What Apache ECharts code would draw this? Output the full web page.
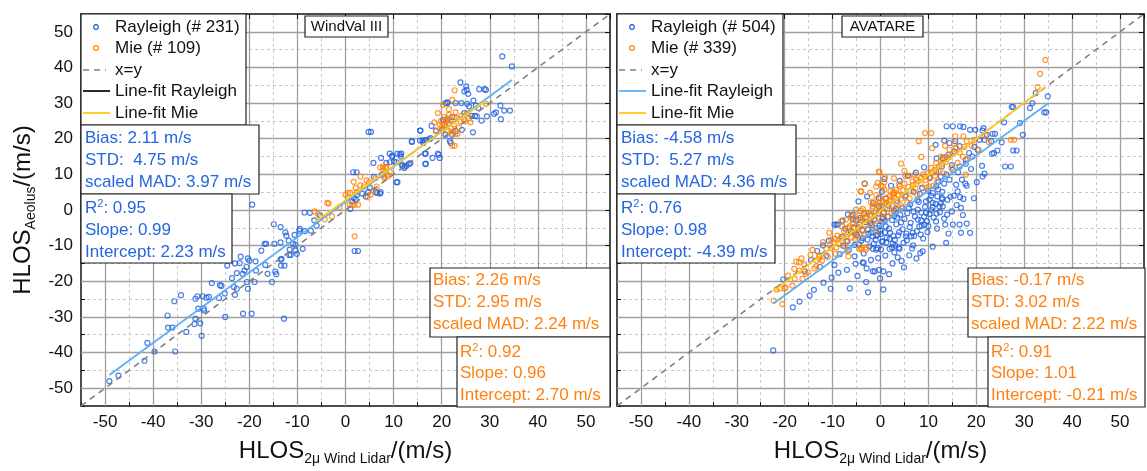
<!DOCTYPE html>
<html>
<head>
<meta charset="utf-8">
<script src="https://cdn.jsdelivr.net/npm/echarts@6/dist/echarts.min.js"></script>
<style>
  html, body { margin: 0; padding: 0; background: #fff; }
  #chart { width: 1147px; height: 471px; }
</style>
</head>
<body>
<div id="chart"></div>
<script>
// ---- data ----
const windvalRayleigh = [
  [-49.1,-48],[-47.2,-46.5],[-41.8,-42.3],[-41.2,-37.3],[-39.7,-39.7],[-37.0,-29.6],[-36.9,-33.0],[-36.0,-33.0],
  [-35.6,-25.6],[-35.4,-39.7],[-34.2,-23.9],[-33.1,-34.2],[-31.4,-32.0],[-31.2,-30.5],[-31.2,-24.9],[-30.8,-24.2],
  [-30.6,-27.7],[-30.2,-31.8],[-29.9,-35.3],[-29.7,-24.2],[-29.5,-27.7],[-29.4,-28.2],[-28.9,-24.6],[-28.4,-24.4],
  [-27.8,-20.5],[-26.3,-24.7],[-26.1,-21.1],[-25.8,-21.3],[-25.1,-23.4],[-25.0,-30.0],[-24.6,-15.6],[-23.6,-19.1],
  [-23.2,-21.6],[-23.0,-23.8],[-23.0,-15.0],[-22.6,-22.1],[-22.6,-17.7],[-22.0,-14.9],[-21.8,-13.1],[-21.4,-17.9],
  [-21.3,-29.1],[-21.0,-17.0],[-20.6,-16.0],[-20.5,-20.2],[-20.3,-22.1],[-20.3,-13.6],[-20.0,-14.2],[-19.5,-29.1],
  [-18.9,-20.2],[-18.7,-14.4],[-18.6,-17.0],[-17.5,-11.4],[-16.8,-9.5],[-16.5,-9.5],[-16.7,-15.4],[-16.2,-17.9],
  [-15.3,-20.2],[-14.8,-9.5],[-14.6,-17.3],[-13.5,-9.1],[-13.5,-13.9],[-13.4,-15.6],[-12.8,-30.5],[-12.7,-15.6],
  [-12.5,-6.3],[-12.3,-7.2],[-11.8,-8.6],[-11.6,-11.1],[-11.4,-12.6],[-10.9,-9.5],[-10.6,-7.0],[-10.4,-9.8],
  [-10.4,-11.4],[-10.1,-12.3],[-9.6,-5.8],[-8.9,-10.9],[-8.4,-5.9],[-7.2,-5.8],[1.9,-11.5],[2.6,-11.5],
  [-11.7,-12.6],[-13.3,-13.7],[-14.4,-18.0],
  [-19.4,1.5],[-14.9,-4.0],[-13.5,-4.8],[-9.5,-5.3],[-8.5,-0.7],[-7.4,-0.8],[-6.5,-2.9],[-6.0,-4.4],[-5.3,-1.6],
  [1.0,0.3],[1.4,2.4],[1.7,3.4],[2.1,2.9],[2.4,4.3],[1.6,10.6],[2.3,10.6],[3.5,4.6],[4.2,3.8],[4.7,5.0],[5.1,6.2],
  [4.8,21.9],[5.3,21.9],[5.9,9.3],[5.8,13.2],[6.3,5.0],[6.6,4.8],[7.2,4.6],[7.4,14.6],[7.6,9.9],[8.5,13.2],
  [9.2,15.8],[9.2,13.4],[9.7,15.2],[10.1,13.6],[10.8,7.8],[10.8,15.8],[11.6,15.8],[11.8,12.4],[12.2,11.8],
  [12.7,12.4],[13.2,13.0],[13.8,19.3],[15.5,22.3],[16.0,19.5],[16.3,19.5],[16.5,15.8],[16.6,12.9],[17.7,20.2],
  [18.1,14.6],[19.4,15.5],[19.6,14.6],[18.8,22.3],[20.1,22.5],[20.8,30.0],[21.2,30.2],[21.7,19.3],
  [32.6,43.1],[34.6,40.3],[23.9,35.8],[25.1,34.7],[25.2,33.7],[24.7,33.3],[25.5,32.6],[27.8,33.9],[28.9,33.9],
  [29.2,33.7],[26.6,30.7],[21.2,30.0],[22.9,30.0],[24.1,30.0],[25.3,29.8],[25.7,29.1],[27.1,29.3],[27.6,28.6],
  [32.2,29.3],[33.0,27.9],[34.2,27.9],[31.3,27.4],[30.9,27.0],[29.4,26.3],[27.3,26.3],[26.9,26.4],[26.2,26.4],
  [28.3,25.1],[32.3,25.5],[24.7,27.2],[22.2,26.1],[21.2,25.1],[20.3,25.3],[24.2,22.5],[26.5,21.8],[21.9,18.8],
  [17.9,23.6],[15.6,22.3],[13.8,19.1],[15.5,19.5],[16.7,19.7],[17.5,19.9],[16.2,18.8],[16.7,15.8],[19.2,15.8],
  [16.7,13.0],[11.5,15.0],[10.6,13.4],[10.6,7.8],[7.3,5.0],[11.3,15.6],[9.7,15.0],[11.8,12.7],[12.3,12.2],
  [13.5,13.1],[20.8,21.1],[22.2,21.1],[22.9,22.1]
];
const windvalMie = [
  [-6.4,-0.4],[-2.8,-1.8],[-3.8,2.0],[-3.5,1.8],[0,4.3],[0.5,4.8],[1.0,4.8],[0.9,1.5],[1.4,1.5],[1.9,1.5],[2.6,1.5],
  [3.1,9.4],[1.7,7.9],[2.1,6.2],[2.4,5.0],[3.1,6.9],[3.8,6.6],[4.4,8.3],[4.9,7.8],[5.2,4.3],[5.8,5.5],[6.5,6.6],
  [7.2,12.0],[7.8,11.6],[8.5,12.1],[8.1,9.4],[8.7,9.9],[9.2,10.8],
  [22.7,33.6],[22.2,30.9],[20.3,29.5],[19.2,27.2],[20.5,26.1],[21.2,25.8],[21.5,26.7],[22.7,26.1],[23.1,25.8],
  [23.9,24.9],[24.9,24.9],[26.0,24.6],[19.6,23.9],[20.1,23.5],[20.8,23.3],[21.5,24.4],[21.9,23.0],[22.4,22.1],
  [22.9,21.4],[23.3,21.4],[22.0,21.4],[22.7,18.0],[22.2,18.0],[18.8,22.1],[29.2,29.8],[21.5,28.3],[20.5,23.9],
  [21.2,22.5],[25.3,27.2],[24.6,25.4],[25.7,25.8],[7.8,12.2],[8.3,11.8],[8.8,9.4],[8.1,9.0],[1.9,-7.4],
  [20.9,24.8],[21.8,25.2],[22.5,24.0],[23.6,23.2],[20.2,22.6],[19.9,25.0],[22.9,27.4],[24.2,26.5],[18.5,24.6],
  [-4.3,-2.6],[-1.2,0.8],[4.6,3.6],[6.2,8.9],[-5.7,-1.1]
];
const avatareRayleigh = [
  [-20.3,-19.5],[-22.4,-39.4],[-18.3,-27.3],[-16.9,-25.7],[-14.8,-24.0],[-13.9,-22.4],[-10.4,-22.1],[-5.4,-9.8],
  [-5.2,-15.1],[-3.7,-14.7],[-3.5,-14.9],[-1.6,-17.2],[-1.2,-17.2],[-0.3,-16.8],[0.6,-17.2],[-0.1,-19.2],
  [-1.6,-10.9],[-0.6,-10.7],[0.3,-8.9],[1.2,-9.1],[1.9,-8.1],[2.6,-9.5],[3.1,-10.0],[3.8,-10.5],[-1.9,-6.3],
  [-0.9,-7.2],[0.1,-6.7],[1.9,-10.9],
  [16.8,-6.4],[18.7,-6.4],[8.3,-12.1],[5.3,-7.4],[6.4,-7.4],[6.7,-6.4],[4.0,-10.9],[3.6,-13.3],[2.9,-11.9],[2.4,-10.5],
  [-3.3,7.4],[-0.35,3.4],[0.8,8.7],[-9.6,-4.1],[-8.9,-4.1],[-5.8,-1.3],[-5.1,-2.7],[-4.4,-4.1],[-2.6,-5.5],
  [-1.6,-7.4],[-0.6,-6.9],[0.5,-8.8],[-0.9,-11.1],[0.1,-11.1],[-2.3,-10.2],[-3.7,-7.9],[-4.5,-9.7],[-5.4,-13.0],
  [32.4,32.8],[31.2,28.6],[31.7,30.0],[34.9,31.9],[34.2,27.4],[34.6,27.4],[27.4,28.9],[27.7,28.9],[29.7,21.1],
  [29.1,24.4],[25.8,24.6],[26.0,12.2],[27.2,12.2],[27.7,16.7],[28.4,16.7],[25.3,19.0],[23.9,21.4],[23.4,21.4],
  [24.4,16.7],[23.3,15.8],[23.7,16.0],[13.8,23.5],[15.1,23.5],[16.6,23.5],[17.3,23.3],[18.7,22.5],[19.8,22.5],
  [21.5,23.0],[21.3,22.3],[22.2,21.1],[23.1,19.3],[21.7,19.7],[20.7,19.7],[19.6,17.7],[20.3,16.9],[18.5,16.0],
  [19.2,15.0],[17.8,14.1],[21.2,12.4],[21.7,10.2],[21.3,9.4],[17.8,13.0],[16.5,12.2],[15.1,11.3],[16.2,10.6],
  [17.0,8.5],[17.7,7.4],[18.0,6.8],[16.1,5.2],[15.3,4.0],[16.6,3.6],[17.3,3.1],[16.8,0.6],[18.0,-3.8],[16.5,-4.1],
  [15.1,-4.1],[13.5,-4.1],[14.9,-0.4],[13.0,1.0],[14.0,2.9],[12.8,3.4],[11.9,3.8],[10.9,4.8],[11.6,6.6],[13.3,7.4],
  [14.4,8.5],[13.8,9.9],[12.6,9.4],[11.6,10.8],[12.8,12.2],[11.7,14.5],[11.5,18.3],[13.3,19.5],[14.4,18.8],
  [15.6,19.3],[16.5,17.9],[15.4,16.4],[14.2,15.5],[13.0,14.6],[10.6,0],[9.5,-0.8],[8.5,-0.7],[7.8,0.1],[9.2,-4.1],
  [8.1,-4.6],[8.6,-4.4],[11.6,-3.2],[12.3,1.0],[10.9,2.0],[10.2,2.9],[9.5,2.4],
  [-9.2,-4.1],[-5.8,-2.7],[-8.1,-7.5],[-7.4,-5.2],[-6.9,-8.8],[-6.2,-6.1],[-5.6,-4.9],[-4.9,-7.0],[-4.2,-2.2],
  [-3.8,-5.6],[-3.1,-3.4],[-2.7,-8.3],[-2.2,-1.5],[-1.8,-4.2],[-1.3,-2.6],[-0.8,-5.1],[-0.4,-1.0],[0.2,-3.3],
  [0.7,-0.6],[1.1,-4.6],[1.5,-1.9],[2.0,-6.4],[2.4,-2.8],[2.8,-0.2],[3.3,-4.0],[3.7,-7.1],[4.1,-1.3],[4.6,-5.4],
  [5.0,-2.5],[5.5,-8.5],[5.9,0.6],[6.3,-3.6],[6.8,-9.9],[7.2,-1.8],[7.6,-5.9],[8.0,2.3],[8.5,-2.9],[8.9,-8.0],
  [9.3,0.9],[9.8,-6.2],[10.2,-1.1],[10.6,4.0],[11.1,-2.1],[11.5,1.7],[12.0,5.8],[12.4,-0.6],[12.9,3.0],[13.3,-2.4],
  [-3.5,-12.2],[-2.0,-14.0],[-0.5,-13.5],[1.0,-12.8],[2.5,-15.0],[4.4,-14.3],[6.0,-12.7],[7.5,-13.6],[-1.4,-9.4],
  [0.9,-6.3],[3.0,-8.4],[4.8,-9.2],[6.6,-10.8],[-6.6,-11.2],[-7.8,-10.0],[-8.5,-12.4],[-10.8,-8.6],[-12.0,-9.9],
  [-11.3,-12.8],[-13.2,-11.5],[-14.5,-14.0],[-12.6,-16.0],[-15.8,-17.2],[-9.6,-15.4],[-7.0,-16.8],[-4.8,-18.5],
  [-3.0,-20.2],[-10.2,-19.0],[1.7,1.2],[3.5,2.6],[5.2,3.8],[6.9,5.1],[8.7,6.2],[-1.5,1.9],[-2.8,3.8],[-4.6,2.4],
  [0.3,5.1],[2.2,6.8],[4.0,8.2],[5.7,9.6],[7.4,10.5],[9.1,12.0],[10.3,9.0],[6.2,1.6],[8.2,4.5],[4.6,0.5],
  [2.9,-1.7],[0.5,-2.4],[-0.2,-4.4],[-2.5,-6.7],[1.3,-7.8],[3.9,-6.2],[7.0,-7.3],[9.7,-3.1],[11.8,-5.2],
  [14.2,-6.6],[13.7,-9.2],[10.9,-10.3],[8.8,-11.6],[0.6,-22.3],[-2.6,-23.1],[-6.4,-22.0],[12.1,7.9],[14.9,12.6],
  [18.9,11.5],[20.1,7.8],[15.8,7.1],[17.2,-1.4],[19.5,3.3],
  [-7.9,-3.0],[-6.8,-1.2],[-5.2,-6.4],[-4.0,-8.6],[-3.4,-1.0],[-2.1,-3.7],[-1.0,-8.4],[0.0,-5.8],[0.9,-3.1],
  [1.8,-5.2],[2.7,-7.3],[3.5,-2.1],[4.3,-3.5],[5.4,-6.6],[6.1,-4.8],[6.9,-0.4],[7.8,-2.7],[8.4,-6.9],[9.1,-1.9],
  [10.0,-4.5],[10.9,0.8],[11.7,-1.0],[12.6,1.9],[13.9,-1.3],[-2.9,-16.4],[1.8,-18.0],[4.9,-16.1],[-8.8,-17.6],
  [-11.9,-20.4],[3.2,0.3],[5.6,-0.9],[7.7,2.8],[9.9,5.4],[12.9,5.1],[14.6,3.7],[15.9,1.4],[-0.3,1.0],[1.1,3.2]
];
const avatareMie = [
  [-22.3,-25.4],[-20.5,-26.4],[-21.7,-22.3],[-21.0,-22.0],[-19.8,-21.7],[-18.4,-21.2],[-17.9,-19.3],[-16.3,-19.3],
  [-16.9,-17.0],[-15.6,-17.9],[-15.1,-17.5],[-13.8,-16.4],[-13.4,-15.8],[-13.3,-14.2],[-12.8,-13.7],[-12.2,-14.2],
  [-12.7,-12.8],[-17.6,-14.5],[-17.0,-14.7],[-11.3,-10.9],[-10.3,-10.7],[-9.2,-10.5],[-8.7,-9.5],[-7.2,-8.6],
  [-6.1,-7.7],[-5.1,-7.4],[-4.4,-6.7],[-4.0,-10.5],[-3.0,-10.5],[-4.4,-10.9],[-7.5,-10.2],[-5.8,-6.1],[-3.7,-5.8],
  [-0.9,-6.1],[-20.0,-22.0],
  [-0.35,10.8],[-4.0,5.2],[-1.5,2.4],[-3.7,0.3],[-4.4,-1.6],[-5.8,-3.7],[-6.8,-5.0],[-7.8,-7.6],[-9.6,-8.1],
  [-10.3,-8.3],[-12.8,-13.0],[-4.0,-11.1],[-3.0,-11.1],[-0.9,6.6],[0.5,6.6],[0.8,5.7],[-3.0,-2.2],[-1.9,-1.3],
  [-5.1,0.1],[-6.1,-1.6],[-7.2,-2.7],[-8.2,-3.2],
  [34.4,42.1],[33.3,38.2],[32.8,34.5],[9.3,21.6],[10.6,21.6],[8.0,19.3],[10.8,17.4],[8.5,14.9],[4.3,13.0],
  [13.5,18.0],[14.4,16.9],[15.4,18.6],[15.8,17.4],[16.5,16.2],[17.2,15.0],[17.5,17.7],[18.2,14.3],[18.0,19.3],
  [19.6,19.7],[20.5,16.9],[17.3,20.7],[15.6,20.7],[17.8,9.9],[13.7,15.0],[13.0,14.1],[12.2,12.2],[11.3,11.3],
  [10.6,11.8],[9.9,10.4],[9.2,9.4],[8.5,9.0],[7.4,8.5],[6.7,8.0],[6.0,9.6],[5.2,9.4],[5.0,7.4],[4.0,6.6],[3.3,5.7],
  [2.6,4.8],[1.9,3.8],[1.2,3.4],[0.5,2.4],[-0.2,2.0],[-0.6,7.6],[-0.2,10.6],[0.8,7.8],[0.1,6.8],[-4.2,5.2],
  [-3.3,7.4],[2.6,4.3],[3.0,5.0],[3.6,4.3],[2.2,2.9],[1.2,2.0],[-1.6,1.0],[-3.0,-0.8],[-3.7,-2.2],[12.6,15.0],
  [11.6,13.2],[10.1,6.6],[11.0,6.8],[27.2,19.7],[27.9,19.7],
  [-9.8,-9.0],[-9.0,-7.2],[-8.4,-8.0],[-7.6,-5.9],[-6.9,-6.8],[-6.4,-4.5],[-5.5,-5.2],[-5.0,-3.1],[-4.6,-4.8],
  [-3.9,-2.9],[-3.3,-4.0],[-2.7,-1.0],[-2.3,-2.8],[-1.7,0.3],[-1.2,-1.6],[-0.7,1.5],[-0.3,-0.4],[0.2,0.9],
  [0.6,-0.9],[1.0,1.6],[1.5,0.4],[1.9,2.5],[2.4,1.2],[2.9,3.4],[3.3,2.0],[3.8,4.1],[4.2,3.0],[4.7,5.6],[5.3,4.2],
  [5.8,6.5],[6.3,5.3],[6.8,7.0],[7.3,6.0],[7.9,8.1],[8.4,7.3],[8.9,10.0],[9.5,8.4],[10.1,9.1],[10.8,10.5],
  [11.4,9.6],[12.1,11.0],[12.8,12.9],[13.6,13.5],[14.3,14.8],[15.1,15.9],[-8.0,-4.6],[-6.0,-2.0],[-4.1,-0.2],
  [-2.0,2.1],[0.0,3.3],[2.1,5.3],[3.9,7.2],[6.1,3.3],[4.4,1.1],[2.3,-0.8],[0.3,-2.6],[-1.8,-4.6],[-3.4,-7.0],
  [-5.3,-8.1],[-7.0,-11.5],[-9.4,-12.3],[-11.0,-13.2],[-14.6,-12.6],[-15.9,-15.2],[-10.7,-6.4],[-12.0,-9.0],
  [-6.7,-13.0],[-1.0,-3.0],[1.7,-1.8],[3.6,0.2],[5.6,2.1],[7.6,4.3],[9.6,6.2],[7.1,9.9],[5.0,11.0],[2.8,8.9],
  [0.9,9.2],[-2.2,4.8],[-0.9,4.2],[11.8,7.9],[13.2,10.3],[14.8,11.8],[16.1,13.2],[19.0,18.0],[21.8,21.0],
  [22.6,19.0],[-18.0,-16.5],[-19.3,-18.4],[-14.2,-11.2],[-16.5,-13.6]
];
// fitted lines, end points as drawn
const windvalFitRayleigh = [[-49.1,-46.3],[34.6,36.5]];
const windvalFitMie = [[-6.3,-3.3],[29.2,30.7]];
const avatareFitRayleigh = [[-22.4,-26.3],[35.1,30.0]];
const avatareFitMie = [[-22.4,-22.8],[34.4,34.5]];
const identityLine = [[-55,-55],[55,55]];

const panelTitles = ['WindVal III', 'AVATARE'];
const windvalLegend = ['Rayleigh (# 231)', 'Mie (# 109)', 'x=y', 'Line-fit Rayleigh', 'Line-fit Mie'];
const avatareLegend = ['Rayleigh (# 504)', 'Mie (# 339)', 'x=y', 'Line-fit Rayleigh', 'Line-fit Mie'];
const windvalRayleighStats = ['Bias: 2.11 m/s', 'STD:  4.75 m/s', 'scaled MAD: 3.97 m/s'];
const windvalRayleighFit = ['0.95', 'Slope: 0.99', 'Intercept: 2.23 m/s'];
const windvalMieStats = ['Bias: 2.26 m/s', 'STD: 2.95 m/s', 'scaled MAD: 2.24 m/s'];
const windvalMieFit = ['0.92', 'Slope: 0.96', 'Intercept: 2.70 m/s'];
const avatareRayleighStats = ['Bias: -4.58 m/s', 'STD:  5.27 m/s', 'scaled MAD: 4.36 m/s'];
const avatareRayleighFit = ['0.76', 'Slope: 0.98', 'Intercept: -4.39 m/s'];
const avatareMieStats = ['Bias: -0.17 m/s', 'STD: 3.02 m/s', 'scaled MAD: 2.22 m/s'];
const avatareMieFit = ['0.91', 'Slope: 1.01', 'Intercept: -0.21 m/s'];

// ---- styling ----
const FONT = 'Liberation Sans';
const BLUE = '#1f5fe0';
const ORANGE = '#ff8000';
const FIT_BLUE = '#5eb0f5';
const FIT_YELLOW = '#ffc81e';
const TEXT_BLUE = '#2566e0';
const TEXT_ORANGE = '#ff8010';

const grids = [
  { left: 81, top: 14, width: 529, height: 393 },
  { left: 617, top: 14, width: 528, height: 393 }
];

function tickLabel(v) { return v % 10 === 0 ? String(v) : ''; }

const nameRich = {
  a: { fontSize: 24, fontFamily: FONT, color: '#111', lineHeight: 30 },
  b: { fontSize: 14, fontFamily: FONT, color: '#111', lineHeight: 6, verticalAlign: 'bottom' }
};

function minorAxis(g, pos, showLabels, name) {
  return {
    type: 'value', gridIndex: g, position: pos, min: -55, max: 55, interval: 5,
    axisLine: { onZero: false, lineStyle: { color: '#111', width: 1.5 } },
    axisTick: { inside: true, length: 4, lineStyle: { color: '#111' } },
    axisLabel: { show: showLabels, formatter: tickLabel, fontSize: 17, color: '#111', fontFamily: FONT, margin: 8 },
    splitLine: { show: true, showMinLine: false, showMaxLine: false,
      lineStyle: { color: '#c8c8c8', type: [3, 3], width: 1 } },
    name: name || '', nameLocation: 'middle',
    nameGap: pos === 'bottom' ? 30 : 43,
    nameTextStyle: { rich: nameRich }
  };
}
function majorAxis(g, pos) {
  return {
    type: 'value', gridIndex: g, position: pos, min: -55, max: 55,
    splitNumber: 11, minInterval: 10, maxInterval: 10, z: 1,
    axisLine: { onZero: false, lineStyle: { color: '#111', width: 1.5 } },
    axisTick: { inside: true, length: 5, lineStyle: { color: '#111' } },
    axisLabel: { show: false },
    splitLine: { show: true, showMinLine: false, showMaxLine: false,
      lineStyle: { color: '#a0a0a0', width: 1.3 } }
  };
}

const xName = '{a|HLOS}{b|2μ Wind Lidar}{a|/(m/s)}';
const yName = '{a|HLOS}{b|Aeolus}{a|/(m/s)}';

function scatter(data, color, ax) {
  return {
    type: 'scatter', data: data, xAxisIndex: ax, yAxisIndex: ax,
    symbol: 'circle', symbolSize: 5, silent: true,
    itemStyle: { color: 'rgba(0,0,0,0)', borderColor: color, borderWidth: 1.2 }
  };
}
function line(data, color, ax, dashed) {
  return {
    type: 'line', data: data, xAxisIndex: ax, yAxisIndex: ax, symbol: 'none', silent: true,
    lineStyle: { color: color, width: dashed ? 1.6 : 1.8, type: dashed ? [6, 5] : 'solid' }
  };
}

// ---- overlay boxes ----
function rect(x, y, w, h) {
  return { type: 'rect', z: 100, shape: { x: x, y: y, width: w, height: h },
    style: { fill: '#fff', stroke: '#222', lineWidth: 1.2 } };
}
function text(x, y, s, color, size) {
  return { type: 'text', z: 101, x: x, y: y,
    style: { text: s, fill: color, fontSize: size || 17, fontFamily: FONT,
      align: 'left', verticalAlign: 'middle', textVerticalAlign: 'middle' } };
}
function r2Text(x, y, val, color) {
  return { type: 'text', z: 101, x: x, y: y,
    style: { text: '{n|R}{s|2}{n|: ' + val + '}', fill: color, align: 'left',
      verticalAlign: 'middle', textVerticalAlign: 'middle',
      rich: {
        n: { fontSize: 17, fontFamily: FONT, color: color, lineHeight: 20 },
        s: { fontSize: 11, fontFamily: FONT, color: color, lineHeight: 12, verticalAlign: 'top' }
      } } };
}

const legendRows = [27, 48, 70, 91, 113];
const statRows1 = [138, 160, 182];
const statRows2 = [208, 230, 252];
const mieRows1 = [280, 302, 324];
const mieRows2 = [352, 373, 395];

function panelGraphics(p) {
  const out = [];
  // legend
  out.push(rect(p.gx, 14, p.legendW, 111));
  const ix = p.gx + 15, lx1 = p.gx + 2, lx2 = p.gx + 29, tx = p.gx + 34;
  out.push({ type: 'circle', z: 101, shape: { cx: ix, cy: legendRows[0], r: 2.3 }, style: { fill: 'none', stroke: BLUE, lineWidth: 1.2 } });
  out.push({ type: 'circle', z: 101, shape: { cx: ix, cy: legendRows[1], r: 2.3 }, style: { fill: 'none', stroke: ORANGE, lineWidth: 1.2 } });
  out.push({ type: 'line', z: 101, shape: { x1: lx1, y1: legendRows[2], x2: lx2 - 4, y2: legendRows[2] }, style: { stroke: '#808080', lineWidth: 1.6, lineDash: [6, 5] } });
  out.push({ type: 'line', z: 101, shape: { x1: lx1, y1: legendRows[3], x2: lx2, y2: legendRows[3] }, style: { stroke: p.legendFitColor, lineWidth: 1.8 } });
  out.push({ type: 'line', z: 101, shape: { x1: lx1, y1: legendRows[4], x2: lx2, y2: legendRows[4] }, style: { stroke: FIT_YELLOW, lineWidth: 1.8 } });
  p.legend.forEach(function (s, i) { out.push(text(tx, legendRows[i], s, '#111')); });
  // title
  out.push(rect(p.titleX, 16, p.titleW, 21));
  out.push({ type: 'text', z: 101, x: p.titleX + p.titleW / 2, y: 27,
    style: { text: p.title, fill: '#111', fontSize: 15, fontFamily: FONT, align: 'center', verticalAlign: 'middle', textAlign: 'center', textVerticalAlign: 'middle' } });
  // Rayleigh stats
  out.push(rect(p.gx, 125, p.rs1W, 69));
  p.rStats.forEach(function (s, i) { out.push(text(p.gx + 4, statRows1[i], s, TEXT_BLUE)); });
  out.push(rect(p.gx, 194, p.rs2W, 69));
  out.push(r2Text(p.gx + 4, statRows2[0], p.rFit[0], TEXT_BLUE));
  out.push(text(p.gx + 4, statRows2[1], p.rFit[1], TEXT_BLUE));
  out.push(text(p.gx + 4, statRows2[2], p.rFit[2], TEXT_BLUE));
  // Mie stats
  out.push(rect(p.m1x, 268, p.gr - p.m1x, 69));
  p.mStats.forEach(function (s, i) { out.push(text(p.m1x + 3, mieRows1[i], s, TEXT_ORANGE)); });
  out.push(rect(p.m2x, 337, p.gr - p.m2x, 70));
  out.push(r2Text(p.m2x + 3, mieRows2[0], p.mFit[0], TEXT_ORANGE));
  out.push(text(p.m2x + 3, mieRows2[1], p.mFit[1], TEXT_ORANGE));
  out.push(text(p.m2x + 3, mieRows2[2], p.mFit[2], TEXT_ORANGE));
  return out;
}

const graphics = [].concat(
  panelGraphics({ gx: 81, gr: 610, legendW: 165, legend: windvalLegend, legendFitColor: '#111',
    title: panelTitles[0], titleX: 305, titleW: 83, rs1W: 178, rs2W: 151,
    rStats: windvalRayleighStats, rFit: windvalRayleighFit, m1x: 430, m2x: 457,
    mStats: windvalMieStats, mFit: windvalMieFit }),
  panelGraphics({ gx: 617, gr: 1145, legendW: 166, legend: avatareLegend, legendFitColor: FIT_BLUE,
    title: panelTitles[1], titleX: 842, titleW: 81, rs1W: 179, rs2W: 158,
    rStats: avatareRayleighStats, rFit: avatareRayleighFit, m1x: 968, m2x: 988,
    mStats: avatareMieStats, mFit: avatareMieFit })
);

const chart = echarts.init(document.getElementById('chart'));
chart.setOption({
  animation: false,
  backgroundColor: '#fff',
  grid: grids,
  xAxis: [minorAxis(0, 'bottom', true, xName), majorAxis(0, 'top'),
          minorAxis(1, 'bottom', true, xName), majorAxis(1, 'top')],
  yAxis: [minorAxis(0, 'left', true, yName), majorAxis(0, 'right'),
          minorAxis(1, 'left', false, ''), majorAxis(1, 'right')],
  series: [
    scatter(windvalRayleigh, BLUE, 0),
    scatter(windvalMie, ORANGE, 0),
    line(identityLine, '#808080', 0, true),
    line(windvalFitRayleigh, FIT_BLUE, 0, false),
    line(windvalFitMie, FIT_YELLOW, 0, false),
    scatter(avatareRayleigh, BLUE, 2),
    scatter(avatareMie, ORANGE, 2),
    line(identityLine, '#808080', 2, true),
    line(avatareFitRayleigh, FIT_BLUE, 2, false),
    line(avatareFitMie, FIT_YELLOW, 2, false)
  ],
  graphic: graphics
});
</script>
</body>
</html>
